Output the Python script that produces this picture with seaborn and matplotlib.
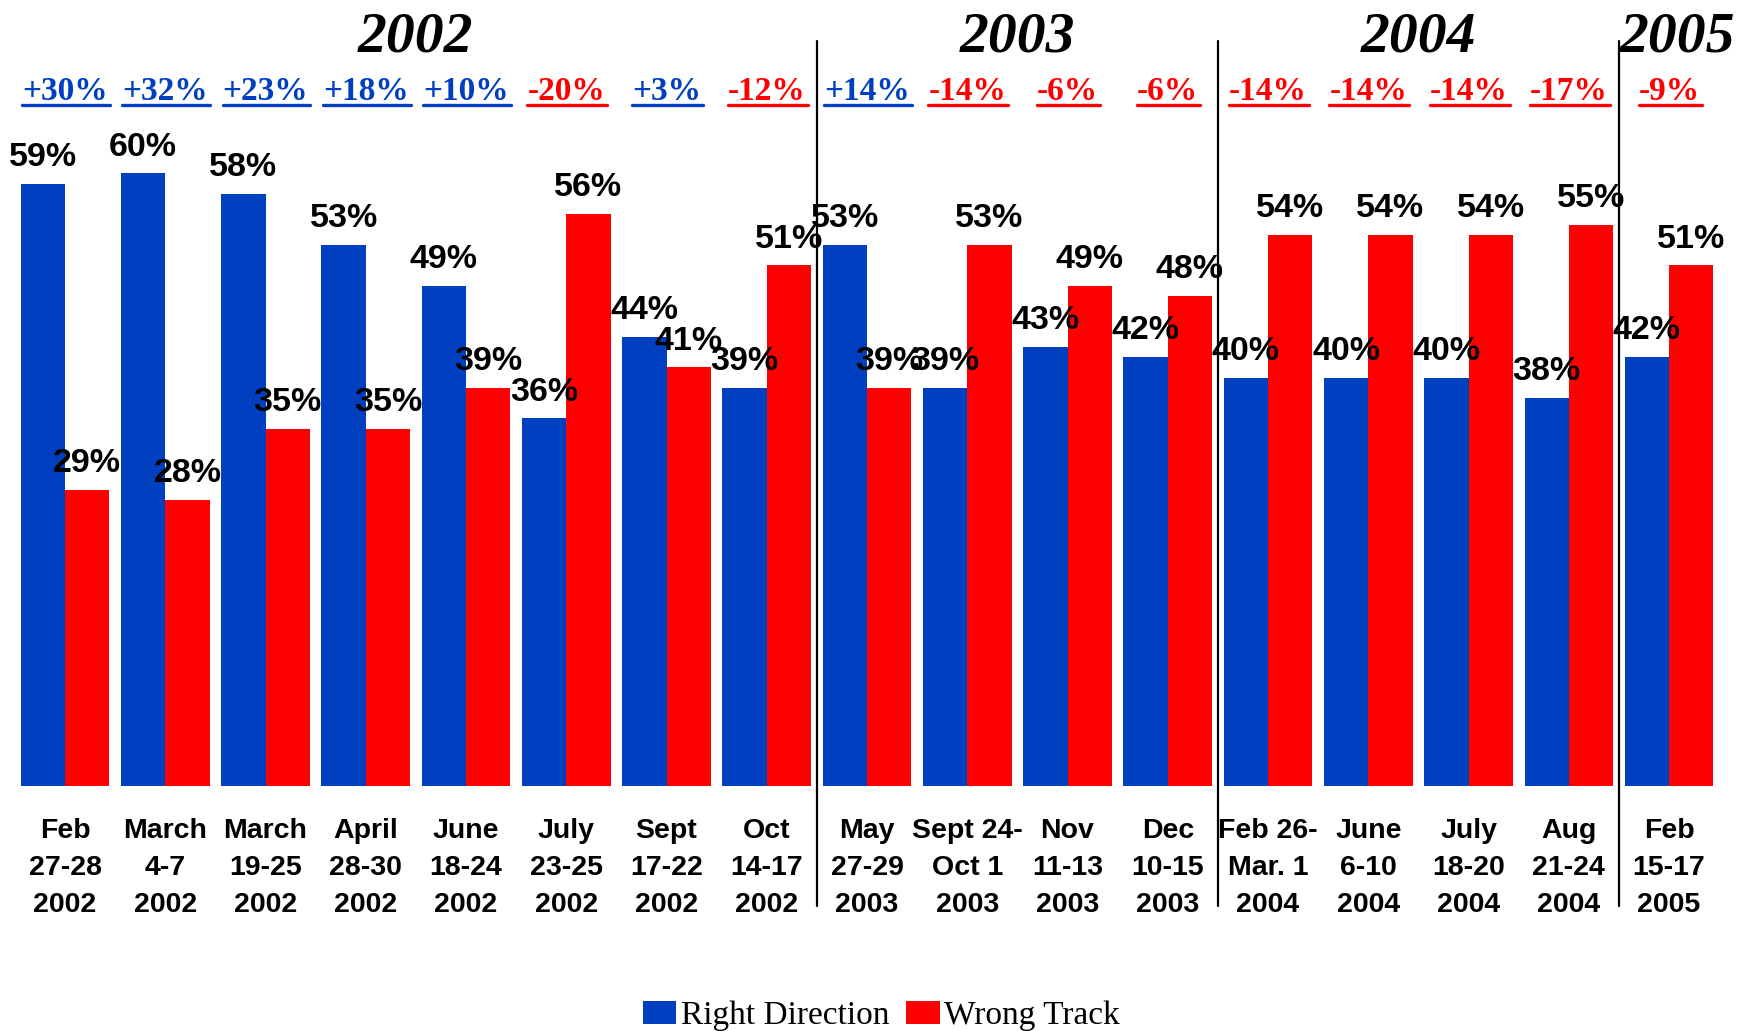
import matplotlib
matplotlib.use("Agg")
import matplotlib.pyplot as plt
import numpy as np
import pandas as pd
import seaborn as sns
from matplotlib.lines import Line2D

# poll dates (tick labels) and results
polls = [
    "Feb\n27-28\n2002", "March\n4-7\n2002", "March\n19-25\n2002", "April\n28-30\n2002",
    "June\n18-24\n2002", "July\n23-25\n2002", "Sept\n17-22\n2002", "Oct\n14-17\n2002",
    "May\n27-29\n2003", "Sept 24-\nOct 1\n2003", "Nov\n11-13\n2003", "Dec\n10-15\n2003",
    "Feb 26-\nMar. 1\n2004", "June\n6-10\n2004", "July\n18-20\n2004", "Aug\n21-24\n2004",
    "Feb\n15-17\n2005",
]
right_direction = [59, 60, 58, 53, 49, 36, 44, 39, 53, 39, 43, 42, 40, 40, 40, 38, 42]
wrong_track = [29, 28, 35, 35, 39, 56, 41, 51, 39, 53, 49, 48, 54, 54, 54, 55, 51]
net_change = ["+30%", "+32%", "+23%", "+18%", "+10%", "-20%", "+3%", "-12%",
              "+14%", "-14%", "-6%", "-6%", "-14%", "-14%", "-14%", "-17%", "-9%"]
years = ["2002", "2003", "2004", "2005"]

BLUE = "#0040C0"
RED = "#FF0000"

df = pd.DataFrame({
    "poll": polls * 2,
    "series": ["Right Direction"] * len(polls) + ["Wrong Track"] * len(polls),
    "value": right_direction + wrong_track,
})

sns.set_style("white")
plt.rcParams["font.family"] = ["Liberation Sans", "DejaVu Sans"]
plt.rcParams["text.color"] = "black"
plt.rcParams["xtick.color"] = "black"

fig = plt.figure(figsize=(17.44, 10.31), dpi=100)
ax = fig.add_axes([0.00854, 0.2376, 0.97724, 0.7427])

sns.barplot(data=df, x="poll", y="value", hue="series", order=polls,
            palette=[BLUE, RED], width=0.884, saturation=1, gap=0,
            linewidth=0, ax=ax)

ax.set_ylim(0, 75)
ax.set_xlim(-0.5, len(polls) - 0.5)
ax.set_xlabel("")
ax.set_ylabel("")
ax.set_yticks([])
for s in ax.spines.values():
    s.set_visible(False)

ax.set_xticks(range(len(polls)))
ax.set_xticklabels(polls, fontsize=20.5, fontweight="bold", family="Liberation Sans",
                   color="black")
for lbl in ax.get_xticklabels():
    lbl.set_linespacing(1.56)
ax.tick_params(axis="x", length=0, pad=23)

# value labels above the bars
for cont, vals in zip(ax.containers, [right_direction, wrong_track]):
    ax.bar_label(cont, labels=[f"{v}%" for v in vals], padding=7.8, color="black",
                 fontsize=24.5, fontweight="bold", family="Liberation Sans")

# net change labels (underlined) above each poll
chg_texts = []
for i, c in enumerate(net_change):
    col = BLUE if c.startswith("+") else RED
    t = ax.text(i, 67.2, c, ha="center", va="baseline", fontsize=24, fontweight="bold",
                family="Liberation Serif", color=col, clip_on=False)
    chg_texts.append(t)

# year headers and separators
poll_years = [p.split("\n")[-1] for p in polls]
idx = np.arange(len(polls))
for k, yr in enumerate(years):
    members = idx[[py == yr for py in poll_years]]
    xc = members.mean() + (0.08 if len(members) == 1 else 0)
    ax.text(xc, 71.9, yr, ha="center", va="baseline", fontsize=41.5, fontweight="bold",
            fontstyle="italic", family="Liberation Serif", color="black", clip_on=False)
    if k > 0:
        ax.axvline(members.min() - 0.5, ymin=-11.75 / 75, ymax=73 / 75,
                   color="black", lw=1.6, clip_on=False)

# legend at the bottom
handles, labels = ax.get_legend_handles_labels()
ax.get_legend().remove()
fig.legend(handles, labels, loc="center", bbox_to_anchor=(0.5055, 0.015), ncol=2,
           frameon=False, prop={"family": "Liberation Serif", "size": 24},
           handlelength=1.0, handleheight=0.69, handletextpad=0.14,
           columnspacing=0.5, borderpad=0, labelcolor="black")

# underline the change labels
fig.canvas.draw()
renderer = fig.canvas.get_renderer()
_, ybase = ax.transData.transform((0, 67.2))
for t in chg_texts:
    bb = t.get_window_extent(renderer)
    yl = ybase - 5.4
    fig.add_artist(Line2D([bb.x0 / fig.bbox.width, (bb.x1 + 2) / fig.bbox.width],
                          [yl / fig.bbox.height] * 2, color=t.get_color(), lw=2.4,
                          transform=fig.transFigure))

fig.savefig("out.png", dpi=100)
